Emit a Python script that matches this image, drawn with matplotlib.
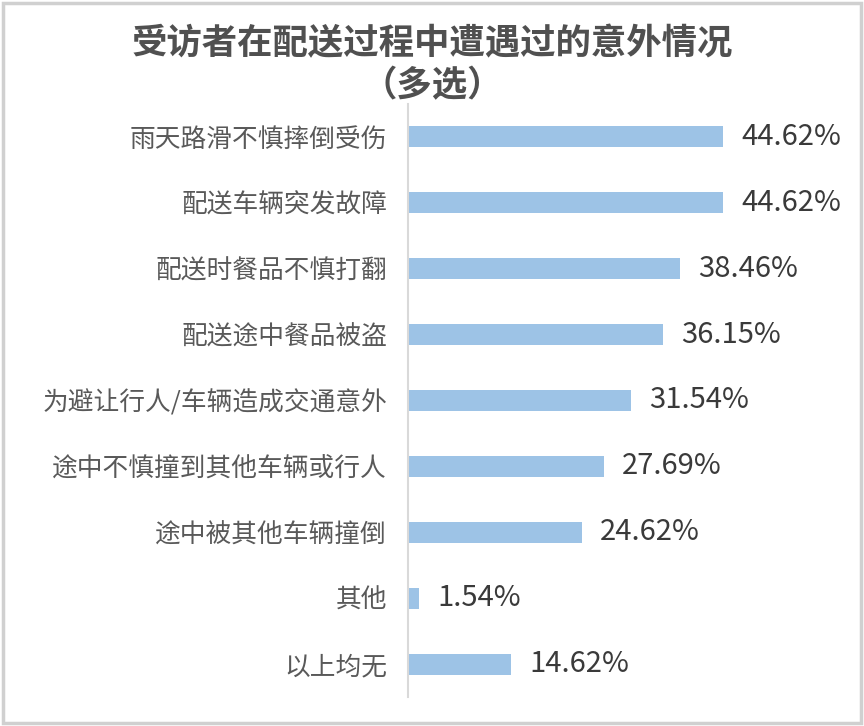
import matplotlib.pyplot as plt
from matplotlib.patches import Rectangle

plt.rcParams['font.family'] = ['Noto Sans CJK SC', 'DejaVu Sans']

# data (top to bottom)
categories = ['雨天路滑不慎摔倒受伤', '配送车辆突发故障', '配送时餐品不慎打翻',
              '配送途中餐品被盗', '为避让行人/车辆造成交通意外', '途中不慎撞到其他车辆或行人',
              '途中被其他车辆撞倒', '其他', '以上均无']
values = [44.62, 44.62, 38.46, 36.15, 31.54, 27.69, 24.62, 1.54, 14.62]
value_labels = ['44.62%', '44.62%', '38.46%', '36.15%', '31.54%', '27.69%',
                '24.62%', '1.54%', '14.62%']

title = '受访者在配送过程中遭遇过的意外情况\n（多选）'

fig = plt.figure(figsize=(8.64, 7.26), dpi=100)
ax = fig.add_axes([408 / 864, 1 - 697 / 726, 424 / 864, 593 / 726])

ypos = list(range(len(categories)))
ax.barh(ypos, values, height=0.32, color='#9DC3E6')
ax.set_xlim(0, 60)
ax.set_ylim(len(categories) - 0.5, -0.5)

for y, v, lab in zip(ypos, values, value_labels):
    ax.annotate(lab, (v, y), xytext=(13, 0), textcoords='offset points',
                va='center', ha='left', fontsize=21, color='#3A3A3A')

ax.set_yticks(ypos)
ax.set_yticklabels(categories, fontsize=18.5, color='#595959')
ax.tick_params(axis='y', length=0, pad=15)
ax.set_xticks([])
for s in ['top', 'right', 'bottom']:
    ax.spines[s].set_visible(False)
ax.spines['left'].set_color('#D9D9D9')
ax.spines['left'].set_linewidth(1.5)

fig.text(0.5, 1 - 65 / 726, title, ha='center', va='center', fontsize=25.5,
         fontweight='bold', color='#505050', linespacing=1.25)

# light gray border round the whole chart
fig.patches.append(Rectangle((0.003, 0.004), 0.994, 0.992, transform=fig.transFigure,
                             fill=False, edgecolor='#D0D0D0', linewidth=2.5))

fig.savefig('out.png', dpi=100)
